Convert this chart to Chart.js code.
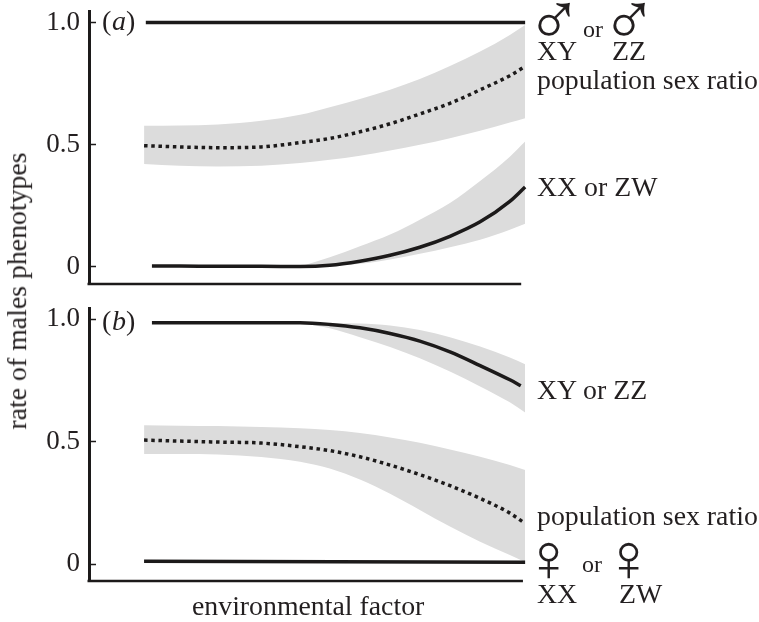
<!DOCTYPE html>
<html>
<head>
<meta charset="utf-8">
<script src="https://cdn.jsdelivr.net/npm/chart.js@4"></script>
<style>
html, body { margin: 0; padding: 0; background: #fff; }
#page { position: relative; width: 759px; height: 622px; overflow: hidden; }
canvas { position: absolute; left: 0; }
.lab { position: absolute; white-space: nowrap; line-height: 1; color: #231f20; font-family: "Liberation Serif", serif; }
</style>
</head>
<body>
<div id="page">
    <canvas id="chartA" width="759" height="297" style="top:0"></canvas>
    <canvas id="chartB" width="759" height="325" style="top:297px"></canvas>
</div>
<script>
const tickValues = [0, 0.5, 1];
const tickLabels = ['0', '0.5', '1.0'];

// x positions along the environmental factor (0 = y axis, 100 = right edge)
const xWide = [12.6, 20.8, 29.5, 39.4, 48.3, 55.1, 62, 68.9, 75.7, 82.6, 89.5, 96.3, 99.8];
const xLine = [14.4, 20.8, 29.5, 39.4, 48.3, 55.1, 62, 68.9, 75.7, 82.6, 89.5, 96.3, 99.8];
const xBand = [48.3, 55.1, 62, 68.9, 75.7, 82.6, 89.5, 96.3, 99.8];
const xHigh = [14.4, 20.8, 29.5, 39.4, 48.3, 55.1, 62, 68.9, 75.7, 82.6, 89.5, 96.3, 98.8];

// panel a
const aTopX = [13, 99.8];
const aTop = [1, 1];
const aRatio = [0.495, 0.49, 0.487, 0.49, 0.508, 0.525, 0.552, 0.585, 0.625, 0.669, 0.724, 0.782, 0.82];
const aRatioHi = [0.577, 0.578, 0.582, 0.597, 0.622, 0.653, 0.686, 0.724, 0.768, 0.822, 0.881, 0.949, 0.99];
const aRatioLo = [0.42, 0.413, 0.41, 0.413, 0.424, 0.437, 0.454, 0.475, 0.499, 0.526, 0.556, 0.59, 0.608];
const aLow = [0.002, 0.002, 0.001, 0.001, 0, 0.005, 0.022, 0.046, 0.079, 0.124, 0.183, 0.267, 0.326];
const aLowHi = [0, 0.038, 0.083, 0.131, 0.192, 0.26, 0.35, 0.45, 0.512];
const aLowLo = [0, 0.004, 0.011, 0.029, 0.052, 0.079, 0.11, 0.151, 0.175];

// panel b
const bHigh = [0.985, 0.985, 0.985, 0.985, 0.985, 0.978, 0.964, 0.941, 0.91, 0.866, 0.81, 0.752, 0.728];
const bHighHi = [0.985, 0.984, 0.982, 0.974, 0.955, 0.926, 0.888, 0.843, 0.815];
const bHighLo = [0.985, 0.962, 0.926, 0.886, 0.84, 0.786, 0.725, 0.66, 0.619];
const bRatio = [0.506, 0.502, 0.498, 0.494, 0.479, 0.463, 0.438, 0.404, 0.365, 0.32, 0.268, 0.208, 0.166];
const bRatioHi = [0.567, 0.565, 0.563, 0.559, 0.554, 0.547, 0.535, 0.517, 0.495, 0.468, 0.438, 0.404, 0.384];
const bRatioLo = [0.449, 0.449, 0.447, 0.437, 0.418, 0.39, 0.345, 0.287, 0.221, 0.153, 0.091, 0.037, 0.009];
const bBottomX = [12.6, 99.8];
const bBottom = [0.012, 0.008];

const labelFont = 27.8;
// text, left, baseline, size
const labels = [
    ['(', 102, 30, 28], ['a', 112, 30, 28, 'italic'], [')', 126, 30, 28],
    ['(', 102, 330, 28], ['b', 112, 330, 28, 'italic'], [')', 126, 330, 28],
    ['XY', 537, 60, labelFont], ['or', 583, 37, 24], ['ZZ', 612, 60, labelFont],
    ['population sex ratio', 537, 89, labelFont],
    ['XX or ZW', 537, 196, labelFont],
    ['XY or ZZ', 537, 399, labelFont],
    ['population sex ratio', 537, 525, labelFont],
    ['or', 582, 572, 24],
    ['XX', 537, 603, labelFont], ['ZW', 619, 603, labelFont],
    ['environmental factor', 192, 615, labelFont],
    ['\u2642', 526, 44.5, 75], ['\u2642', 601, 44.5, 75],
    ['\u2640', 523, 581, 68], ['\u2640', 603, 581, 68]
];

const page = document.getElementById('page');
labels.forEach(([text, left, base, size, style]) => {
    const el = document.createElement('div');
    el.className = 'lab';
    el.textContent = text;
    el.style.left = left + 'px';
    el.style.top = (base - 0.8375 * size) + 'px';
    el.style.fontSize = size + 'px';
    if (style) el.style.fontStyle = style;
    page.appendChild(el);
});
const yTitle = document.createElement('div');
yTitle.className = 'lab';
yTitle.textContent = 'rate of males phenotypes';
yTitle.style.cssText = 'left:17px;top:291px;font-size:27.8px;transform:translate(-50%,-50%) rotate(-90deg);';
page.appendChild(yTitle);

const ink = '#1c1a1a';
const pts = (xs, ys) => ys.map((y, i) => ({x: xs[i], y: y}));
const solid = (data) => ({data, borderColor: ink, borderWidth: 3.5, order: 0, clip: false, cubicInterpolationMode: 'monotone'});
const dotted = (data) => ({data, borderColor: ink, borderWidth: 3.5, borderDash: [3.5, 3.7], order: 0, clip: false, cubicInterpolationMode: 'monotone'});
const bandLo = (data) => ({data, borderWidth: 0, borderColor: 'transparent', order: 2, fill: false, cubicInterpolationMode: 'monotone'});
const bandHi = (data) => ({data, borderWidth: 0, borderColor: 'transparent', backgroundColor: '#dcdcdc', order: 1, fill: '-1', cubicInterpolationMode: 'monotone'});

function makePanel(id, datasets, yMin, yMax, spineEnd, height) {
    new Chart(document.getElementById(id), {
        type: 'line',
        data: {datasets},
        options: {
            responsive: false,
            animation: false,
            events: [],
            layout: {autoPadding: false, padding: {top: 11, bottom: height - 284, left: 0, right: 233}},
            elements: {point: {radius: 0}},
            plugins: {legend: {display: false}, tooltip: {enabled: false}},
            scales: {
                x: {
                    type: 'linear', min: 0, max: 100,
                    grid: {display: false}, border: {display: false}, ticks: {display: false},
                    afterFit: (s) => { s.height = 0; }
                },
                y: {
                    min: yMin, max: yMax,
                    afterFit: (s) => { s.width = 89; s.paddingTop = 0; s.paddingBottom = 0; },
                    afterBuildTicks: (s) => { s.ticks = tickValues.map((v) => ({value: v})); },
                    border: {color: ink, width: 3},
                    grid: {drawOnChartArea: false, tickLength: -7, tickColor: ink, tickWidth: 1.5},
                    ticks: {
                        padding: 16, color: '#231f20', autoSkip: false,
                        font: {family: '"Liberation Serif"', size: 27},
                        callback: (v) => tickLabels[tickValues.indexOf(v)]
                    }
                }
            }
        },
        plugins: [{
            id: 'bottomSpine',
            afterDatasetsDraw(chart) {
                const c = chart.ctx, x = chart.scales.x, y = chart.scales.y;
                c.save();
                c.strokeStyle = ink;
                c.lineWidth = 2.5;
                c.beginPath();
                c.moveTo(x.getPixelForValue(0) - 1.5, y.bottom);
                c.lineTo(x.getPixelForValue(spineEnd), y.bottom);
                c.stroke();
                c.restore();
            }
        }]
    });
}

makePanel('chartA', [
    bandLo(pts(xWide, aRatioLo)),
    bandHi(pts(xWide, aRatioHi)),
    bandLo(pts(xBand, aLowLo)),
    bandHi(pts(xBand, aLowHi)),
    dotted(pts(xWide, aRatio)),
    solid(pts(xLine, aLow)),
    solid(pts(aTopX, aTop))
], -0.0716, 1.047, 98.9, 297);

makePanel('chartB', [
    bandLo(pts(xWide, bRatioLo)),
    bandHi(pts(xWide, bRatioHi)),
    bandLo(pts(xBand, bHighLo)),
    bandHi(pts(xBand, bHighHi)),
    dotted(pts(xWide, bRatio)),
    solid(pts(xHigh, bHigh)),
    solid(pts(bBottomX, bBottom))
], -0.069, 1.045, 99.3, 325);
</script>
</body>
</html>
